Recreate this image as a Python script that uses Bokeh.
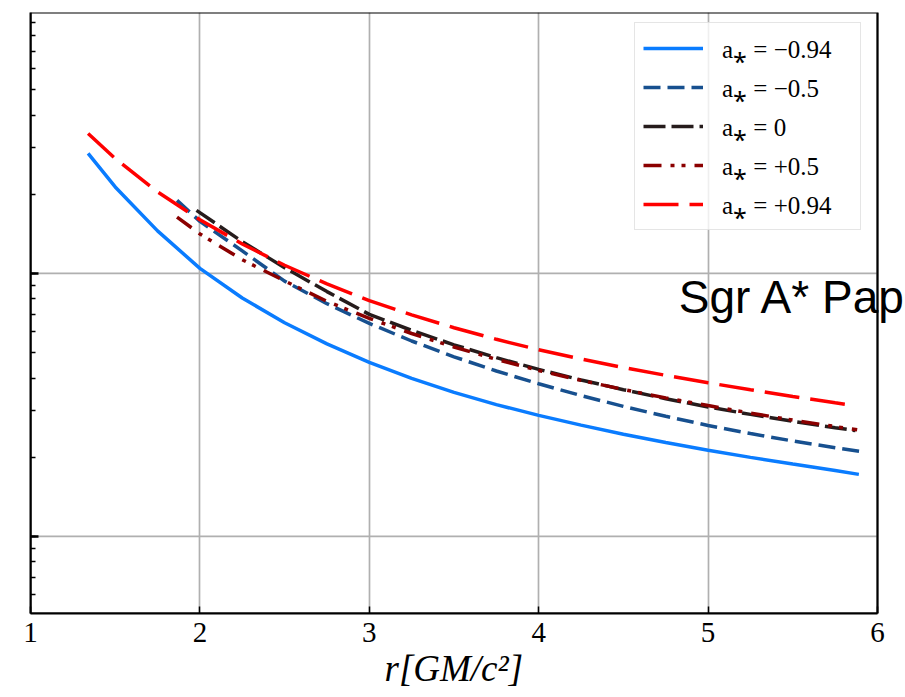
from bokeh.plotting import figure
from bokeh.models import (Range1d, SingleIntervalTicker, Label, Legend, LegendItem,
                          PrintfTickFormatter, BoxAnnotation, Title)
from bokeh.embed import file_html
from bokeh.resources import INLINE

# ---- data ----
r_m094 = [1.34, 1.5, 1.75, 2.0, 2.25, 2.5, 2.75, 3.0, 3.25, 3.5, 3.75, 4.0,
          4.25, 4.5, 4.75, 5.0, 5.25, 5.5, 5.75, 5.89]
v_m094 = [28.59, 21.32, 14.51, 10.45, 8.062, 6.494, 5.394, 4.587, 3.989, 3.527, 3.170, 2.885,
          2.648, 2.447, 2.275, 2.127, 1.997, 1.883, 1.779, 1.721]

r_m05 = [1.865, 2.0, 2.25, 2.5, 2.75, 3.0, 3.25, 3.5, 3.75, 4.0,
         4.25, 4.5, 4.75, 5.0, 5.25, 5.5, 5.75, 5.93]
v_m05 = [18.95, 15.77, 12.18, 9.348, 7.670, 6.455, 5.533, 4.818, 4.255, 3.804,
         3.431, 3.121, 2.862, 2.641, 2.460, 2.305, 2.173, 2.088]

r_0 = [1.98, 2.25, 2.5, 2.75, 3.0, 3.25, 3.5, 3.75, 4.0,
       4.25, 4.5, 4.75, 5.0, 5.25, 5.5, 5.75, 5.87]
v_0 = [17.36, 13.21, 10.51, 8.527, 6.985, 6.072, 5.351, 4.781, 4.315,
       3.933, 3.613, 3.339, 3.105, 2.910, 2.739, 2.590, 2.525]

r_p05 = [1.865, 2.0, 2.25, 2.5, 2.75, 3.0, 3.25, 3.5, 3.75, 4.0,
         4.25, 4.5, 4.75, 5.0, 5.25, 5.5, 5.75, 5.88]
v_p05 = [16.37, 14.13, 11.27, 9.365, 7.832, 6.745, 5.909, 5.250, 4.714, 4.273,
         3.919, 3.619, 3.362, 3.144, 2.943, 2.768, 2.616, 2.543]

r_p094 = [1.34, 1.5, 1.75, 2.0, 2.25, 2.5, 2.75, 3.0, 3.25, 3.5, 3.75, 4.0,
          4.25, 4.5, 4.75, 5.0, 5.25, 5.5, 5.75, 5.87]
v_p094 = [34.06, 27.35, 20.41, 15.99, 12.94, 10.74, 9.123, 7.880, 6.955, 6.216, 5.615, 5.122,
          4.726, 4.387, 4.095, 3.837, 3.610, 3.403, 3.221, 3.141]

labels = ["a\u204e = \u22120.94", "a\u204e = \u22120.5", "a\u204e = 0", "a\u204e = +0.5", "a\u204e = +0.94"]
x_label = "r[GM/c\u00b2]"
note_text = "Sgr A* Pap"
x_lim = (1, 6)
y_lim = (0.509, 98.2)
y_major = [1, 10]

# ---- figure (frame runs to the right page edge so the cut-off note is not clipped) ----
px_per_unit = 169.4
x_end = x_lim[1] + 28 / px_per_unit
p = figure(width=905, height=697,
           x_range=Range1d(x_lim[0], x_end), y_range=Range1d(*y_lim),
           y_axis_type="log",
           output_backend="svg", toolbar_location=None,
           min_border_left=30, min_border_right=0,
           min_border_top=12, min_border_bottom=84)
p.background_fill_color = "white"
p.border_fill_color = "white"
p.outline_line_color = None

# grid
p.xgrid.grid_line_color = "#b0b0b0"
p.xgrid.grid_line_width = 1.7
p.ygrid.grid_line_color = None
for yv in y_major:
    p.add_layout(BoxAnnotation(left=x_lim[0], right=x_lim[1], bottom=yv, top=yv,
                               fill_color=None, line_color="#b0b0b0", line_alpha=1.0,
                               line_width=1.7, level="underlay"))

# visible axes box
p.add_layout(BoxAnnotation(left=x_lim[0], right=x_lim[1], fill_color=None,
                           line_color="black", line_alpha=1.0, line_width=2.2,
                           level="overlay"))

# x axis
p.xaxis.bounds = x_lim
p.xaxis.ticker = SingleIntervalTicker(interval=1, num_minor_ticks=0)
p.xaxis.major_label_text_font = "Liberation Serif"
p.xaxis.major_label_text_font_size = "29px"
p.xaxis.major_label_text_color = "black"
p.xaxis.major_label_standoff = 9
p.xaxis.axis_line_width = 2
p.xaxis.axis_line_color = "black"
p.xaxis.major_tick_in = 7
p.xaxis.major_tick_out = 0
p.xaxis.major_tick_line_width = 1.5
p.xaxis.minor_tick_line_color = None

# x axis title, centred under the 1..6 span
p.add_layout(Title(text=x_label, align="left", offset=354, standoff=2,
                   text_font="Liberation Serif", text_font_style="italic",
                   text_font_size="37px", text_color="black"), "below")

# y axis (labels cut off in the reference)
p.yaxis[0].ticker.num_minor_ticks = 10
p.yaxis.formatter = PrintfTickFormatter(format="%g")
p.yaxis.major_label_text_font_size = "1px"
p.yaxis.major_label_text_color = None
p.yaxis.major_label_standoff = 0
p.yaxis.axis_line_width = 2
p.yaxis.axis_line_color = "black"
p.yaxis.major_tick_in = 8
p.yaxis.major_tick_out = 0
p.yaxis.major_tick_line_width = 2.5
p.yaxis.minor_tick_in = 5
p.yaxis.minor_tick_out = 0
p.yaxis.minor_tick_line_width = 1.5
p.yaxis.minor_tick_line_color = "black"

# curves
r1 = p.line(r_m094, v_m094, line_color="#0a7cff", line_width=3.5)
r2 = p.line(r_m05, v_m05, line_color="#17508f", line_width=3.5, line_dash="17 7")
r3 = p.line(r_0, v_0, line_color="#261c1c", line_width=3.5, line_dash="22 6")
r4 = p.line(r_p05, v_p05, line_color="#8b0000", line_width=3.5, line_dash="18 9 4 7 4 9")
r5 = p.line(r_p094, v_p094, line_color="#ff0000", line_width=3.5, line_dash="35 11")

legend = Legend(items=[LegendItem(label=lab, renderers=[rr])
                       for lab, rr in zip(labels, [r1, r2, r3, r4, r5])],
                location=(604, 383), margin=0, padding=8, spacing=5,
                glyph_width=60, glyph_height=30, label_height=30, label_width=130,
                label_standoff=19,
                label_text_font="Liberation Serif", label_text_font_size="25px",
                label_text_color="black",
                border_line_color="#cccccc", border_line_width=1.5,
                background_fill_color="white", background_fill_alpha=0.8)
p.add_layout(legend)

note = Label(x=4.827, y=8.1, text=note_text, text_font="Liberation Sans",
             text_font_size="46px", text_baseline="alphabetic", text_color="black")
p.add_layout(note)

open("out.html", "w").write(file_html(p, INLINE))
